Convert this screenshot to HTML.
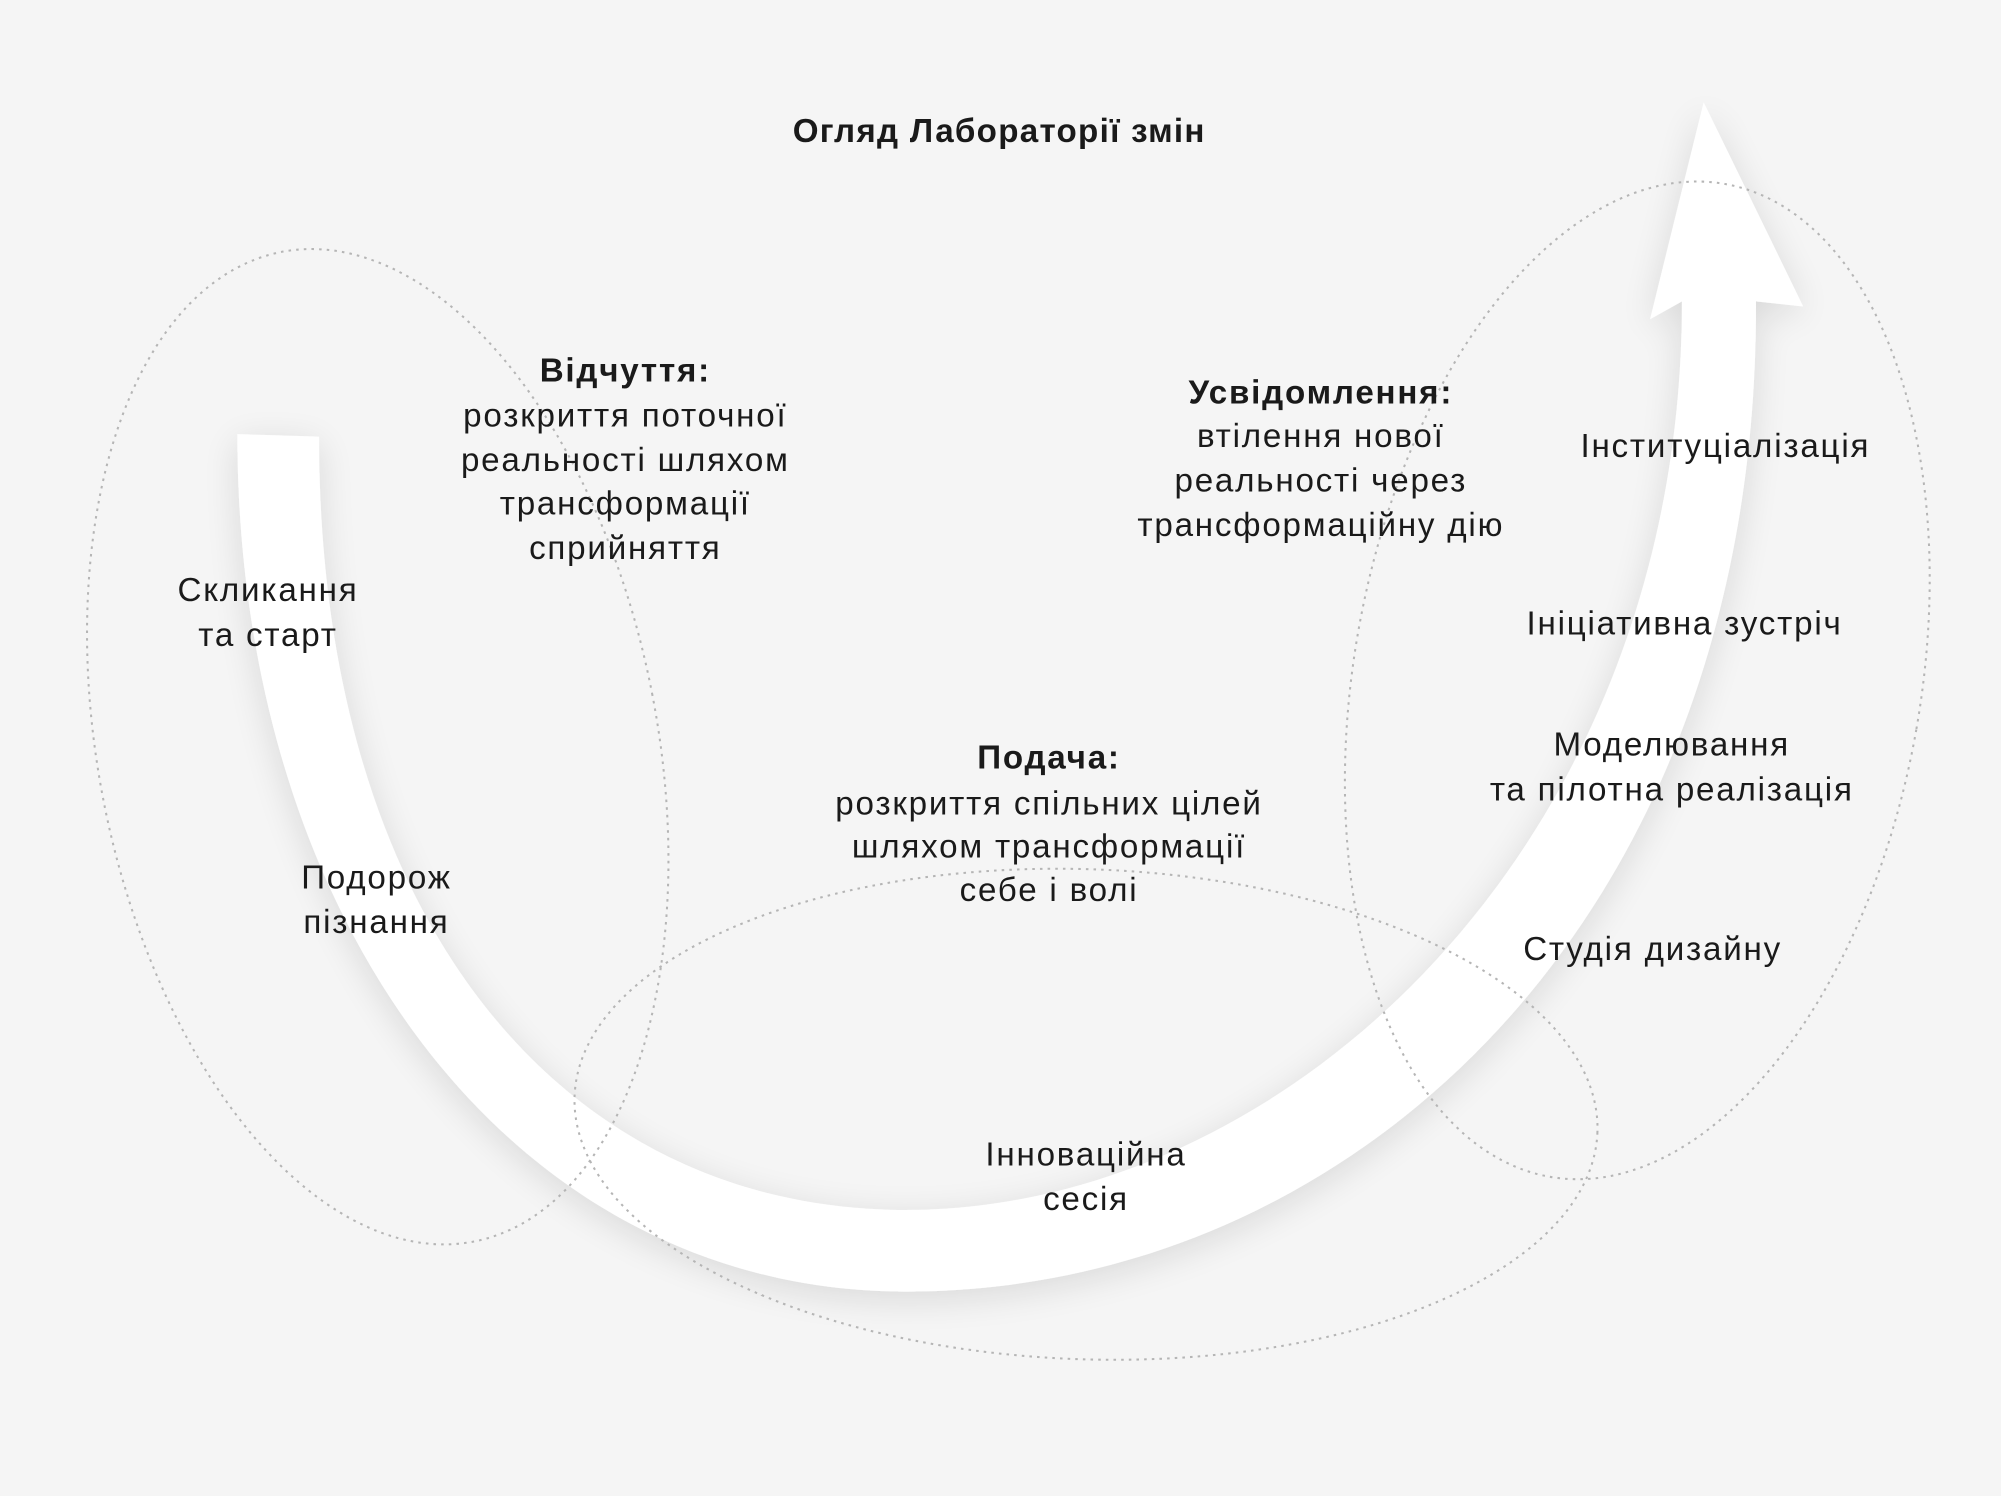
<!DOCTYPE html>
<html><head><meta charset="utf-8">
<style>
html,body{margin:0;padding:0;background:#f5f5f5;}
svg{display:block;}
text{font-family:"Liberation Sans","DejaVu Sans",sans-serif;fill:#1a1a1a;font-size:26px;letter-spacing:1.4px;}
.b{font-weight:bold;}
</style></head>
<body>
<svg width="2001" height="1496" viewBox="0 0 1568 1172" xmlns="http://www.w3.org/2000/svg">
<defs>
<filter id="sh" x="-20%" y="-20%" width="140%" height="140%">
<feGaussianBlur in="SourceAlpha" stdDeviation="14"/>
<feOffset dx="0" dy="6"/>
<feComponentTransfer><feFuncA type="linear" slope="0.12"/></feComponentTransfer>
<feMerge><feMergeNode/><feMergeNode in="SourceGraphic"/></feMerge>
</filter>
</defs>
<rect width="1568" height="1172" fill="#f5f5f5"/>
<path filter="url(#sh)" fill="#ffffff" d="M186,340 C186,720 400,1012 710,1012 C1060,1012 1378,720 1376,236 L1413,240 L1335,80 L1293,250 L1318,236 C1318,660 1010,948 710,948 C440,948 250,720 250,342 Z"/>
<g fill="none" stroke="#b5b5b5" stroke-width="1.6" stroke-dasharray="2 4">
<ellipse cx="296" cy="585" rx="219" ry="395" transform="rotate(-11 296 585)"/>
<ellipse cx="851" cy="873" rx="401" ry="192" transform="rotate(2 851 873)"/>
<ellipse cx="1283" cy="533" rx="222" ry="395" transform="rotate(10 1283 533)"/>
</g>
<text x="783" y="111" text-anchor="middle" class="b" font-size="24" style="letter-spacing:1px">Огляд Лабораторії змін</text>
<g text-anchor="middle">
<text x="490" y="299" class="b">Відчуття:</text>
<text x="490" y="334">розкриття поточної</text>
<text x="490" y="369">реальності шляхом</text>
<text x="490" y="403">трансформації</text>
<text x="490" y="438">сприйняття</text>

<text x="1035" y="316" class="b">Усвідомлення:</text>
<text x="1035" y="350">втілення нової</text>
<text x="1035" y="385">реальності через</text>
<text x="1035" y="420">трансформаційну дію</text>

<text x="822" y="602" class="b">Подача:</text>
<text x="822" y="638">розкриття спільних цілей</text>
<text x="822" y="672">шляхом трансформації</text>
<text x="822" y="706">себе і волі</text>

<text x="210" y="471">Скликання</text>
<text x="210" y="506">та старт</text>
<text x="295" y="696">Подорож</text>
<text x="295" y="731">пізнання</text>
<text x="851" y="913">Інноваційна</text>
<text x="851" y="948">сесія</text>
<text x="1352" y="358">Інституціалізація</text>
<text x="1320" y="497">Ініціативна зустріч</text>
<text x="1310" y="592">Моделювання</text>
<text x="1310" y="627">та пілотна реалізація</text>
<text x="1295" y="752">Студія дизайну</text>
</g>
</svg>
</body></html>
